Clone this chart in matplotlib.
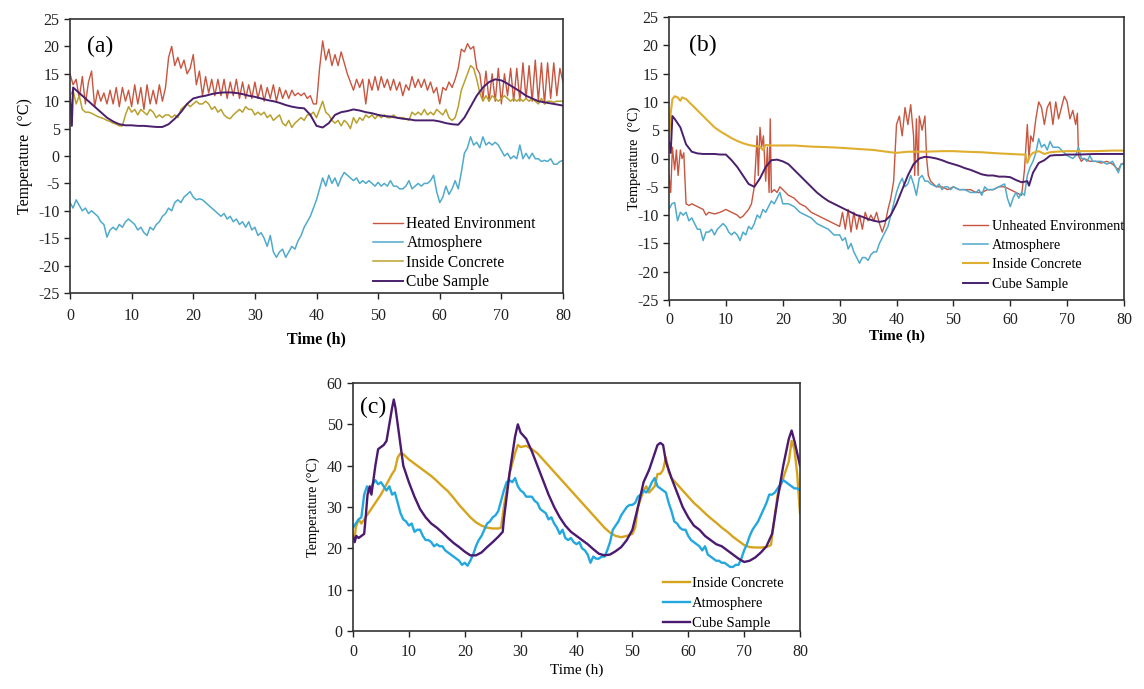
import numpy as np
import matplotlib
matplotlib.use("Agg")
import matplotlib.pyplot as plt

plt.rcParams['font.family'] = ['Liberation Serif', 'DejaVu Serif']
plt.rcParams['axes.unicode_minus'] = False

# ---------------- Panel (a) data (0.5 h sampling) ----------------
a_step = 0.5
a_heated = [15, 13, 14, 10.5, 14.5, 9.5, 13.5, 15.5, 9, 12, 10, 11.5, 9.5, 12, 9.5, 12.5, 9, 12.5, 10, 12,
            9, 13, 9.5, 12.5, 8.5, 13, 9.5, 12, 9.5, 13, 10, 12.5, 18, 20, 16.5, 18, 16, 17.5, 15, 16,
            18.5, 13, 15.5, 11, 14.5, 11.5, 14, 11, 14, 11, 14, 10.5, 13.5, 11, 14, 10.5, 13.5, 10.5, 13, 10.5,
            13.5, 10.5, 13, 10, 12.5, 10.5, 13, 10, 12.5, 10.5, 12, 10.5, 12, 11, 11.5, 11, 11.5, 10.5, 11, 9.5,
            9.5, 16, 21, 17.5, 19.5, 16.5, 18.5, 16.5, 19, 17, 15, 13.5, 12, 14, 12.5, 14, 9.5, 14, 12, 14.5,
            12, 14.5, 12.5, 14, 12, 14, 12, 13.5, 11, 13, 12, 14.5, 12.5, 14, 12.5, 14, 12, 13.5, 11.5, 12.5,
            9.5, 12.5, 12, 13.5, 12.5, 14, 16, 19.5, 19, 20.5, 19.5, 20, 16, 15, 10.5, 15.5, 10, 15, 10, 16,
            9.5, 15, 11, 16, 10, 16, 10, 17, 10.5, 16.5, 10, 17.5, 10, 17, 9.5, 17, 10.5, 17, 11, 16,
            13.5]
a_atmos = [-8.5, -9.5, -8, -9, -10, -9.5, -10.5, -10, -10.5, -11, -12, -12.5, -14.8, -13.5, -13, -13.5, -12.5, -13, -12, -11.5,
           -12, -12.5, -13.5, -13, -14, -14.5, -13, -13.5, -12.5, -12, -11, -10.5, -9.5, -10, -8.5, -8, -8.5, -7.5, -7, -6.5,
           -7.5, -8, -7.8, -8, -8.5, -9, -9.5, -10, -10.5, -11, -10.5, -11.5, -11, -12, -11.5, -12.5, -12, -13, -12, -13.5,
           -13, -14.5, -14, -15, -16.5, -14.5, -17.5, -18.5, -17.5, -17, -18.5, -17.5, -16.5, -17, -15.5, -14.5, -13, -12, -11, -9.5,
           -8, -6, -4, -5.5, -3.5, -5, -4, -5.5, -4, -3, -3.5, -4, -4.5, -4, -5, -4.5, -5, -4.5, -5, -5.5,
           -4.8, -5.5, -5, -5.5, -4.5, -5.5, -5.5, -6, -6, -5.5, -4.5, -6, -5.5, -5, -5.5, -5, -5, -4.5, -3.5, -6.5,
           -8.5, -7.5, -5.5, -7, -6, -4.5, -6, -3, 0.5, 1.5, 3.5, 2, 2.5, 1.5, 3.5, 2, 2.5, 2, 2.5, 2,
           1, 0, 0.5, -0.5, 0, -0.5, 2, -0.5, 0.5, -0.5, 0.5, -0.5, -0.5, -1, -0.8, -1, -0.5, -1.5, -1.5, -1,
           -0.8]
a_concrete = [11, 12, 9.5, 11, 8.5, 8, 8, 7.8, 7.5, 7.2, 7, 6.8, 6.5, 6.3, 6, 5.8, 5.5, 5.5, 7.5, 9,
              8, 8.5, 7.5, 8.5, 8, 7.5, 8.5, 8, 7, 7.5, 7, 7.5, 7.5, 7, 7.5, 7, 8.5, 9, 9.5, 9,
              9.5, 10, 9.5, 9.5, 10, 9.5, 8.5, 9, 8, 8.5, 7.5, 7, 6.8, 7.5, 8, 8.5, 8, 9, 8.5, 8.5,
              7.5, 8, 7.5, 8, 7, 7.5, 6.5, 7, 7.5, 6, 5.5, 6.5, 5.2, 6, 6.5, 7, 6.5, 7.5, 7.5, 8,
              7, 8.5, 10, 8, 7.5, 6.5, 6, 6.5, 5.5, 6.5, 6, 5, 7, 6, 7, 6.5, 7.5, 7, 7.5, 6.8,
              7.5, 7, 7.5, 7, 7, 7.5, 7, 7, 7, 6.8, 6.5, 8, 7.5, 8, 7.5, 8.5, 7.5, 8, 7.5, 8.5,
              8, 7.5, 8.5, 7, 6.5, 7, 9, 12, 13.5, 15, 16.5, 16, 14, 11.5, 10, 11, 10, 11, 10.5, 10,
              10.5, 11, 10.5, 10, 10.5, 10, 10.5, 10, 10.5, 10, 10.5, 10, 9.5, 10.5, 9.5, 10, 10, 9.8, 10, 10,
              10]
a_cube_t = [0, 0.3, 0.5] + list(range(1, 81))
a_cube = [11, 5.5, 12.5, 12, 11, 10, 9, 8, 7, 6.3, 5.8, 5.6, 5.6, 5.5, 5.5, 5.4, 5.3, 5.3, 5.8, 6.8, 8, 9.5,
          10.5, 10.8, 11, 11.3, 11.5, 11.6, 11.6, 11.5, 11.3, 11, 10.8, 10.5, 10.2, 10, 9.7, 9.3, 9, 8.8, 8.7, 7.5,
          5.5, 5.2, 6, 7.5, 8, 8.2, 8.5, 8.3, 8, 7.8, 7.5, 7.3, 7.2, 7, 6.8, 6.7, 6.5, 6.5, 6.5, 6.5,
          6.3, 6, 5.8, 5.7, 7, 9, 11, 12.5, 13.5, 14, 13.8, 13.2, 12.5, 11.8, 11, 10.5, 10, 9.8, 9.6, 9.4, 9.2]

# ---------------- Panel (b) data ----------------
b_unheat_t = [0, 0.3, 0.6, 1, 1.3, 1.6, 2, 2.3, 2.6, 3, 3.5, 4, 5, 6, 6.5, 7, 8, 9, 10, 11, 12, 12.5, 13, 14, 14.5,
              15, 15.5, 15.7, 16, 16.3, 16.6, 17, 17.3, 17.6, 17.8, 18, 18.5, 19, 19.5, 20, 21, 22, 23, 24, 25,
              26, 27, 28, 29, 30, 30.5, 31, 31.5, 32, 32.5, 33, 33.5, 34, 34.5, 35, 35.5, 36, 36.5, 37, 37.5,
              38, 38.5, 39, 39.5, 40, 40.5, 41, 41.5, 42, 42.5, 43, 43.2, 43.5, 43.8, 44, 44.5, 45, 45.3, 45.6,
              46, 47, 48, 49, 50, 51, 52, 53, 54, 55, 56, 57, 58, 59, 60, 61, 62, 62.5, 63, 63.3, 63.6, 64,
              64.5, 65, 65.5, 66, 66.5, 67, 67.5, 68, 68.5, 69, 69.5, 70, 70.5, 71, 71.5, 71.8, 72, 72.5, 73,
              74, 75, 76, 77, 78, 79, 79.5, 80]
b_unheat = [-3, -6, 2, -2, 1.5, -3, 1.5, 0, 1, -8, -8.3, -8, -8.5, -9, -10, -9.5, -9.8, -9.5, -9, -9.5, -10, -10.5, -10.2, -9, -8,
            -5, 4, -3, 5.5, 2, 4, -4, 2, -6, 7, -6, -5.5, -6, -5, -5.5, -6.5, -7, -8, -8.5, -9.5,
            -10, -10.5, -11, -11.5, -12, -9.5, -12.5, -9, -13, -9.5, -12.5, -10, -12.5, -9.5, -11, -10, -11, -9.5, -11.5, -13,
            -11.5, -9, -7, -4, 6, 7.5, 4, 9, 6, 9.5, 4, -3, 7, -3, 7.5, 5, 7.5, 0, -3,
            -4, -5, -5, -5.5, -5, -5.5, -5.5, -5.5, -6, -6, -5.5, -5.5, -5, -5, -5.5, -6, -6.5, -2, 6, 0, 4, 3,
            7, 10, 9, 6, 9, 10, 6, 10, 7, 9, 11, 10, 7, 8.5, 6, 8, 0.5, -0.5, 0,
            -0.5, -0.5, -0.8, -0.5, -1, -2, -1, -0.8]
b_atmos_t = [0, 0.5, 1, 1.5, 2, 2.5, 3, 3.5, 4, 4.5, 5, 5.5, 6, 6.5, 7, 7.5, 8, 8.5, 9, 9.5, 10, 10.5, 11, 11.5, 12,
             12.5, 13, 13.5, 14, 14.5, 15, 15.5, 16, 16.5, 17, 17.5, 18, 18.5, 19, 19.5, 20, 21, 22, 23, 24, 25,
             26, 27, 28, 29, 30, 30.5, 31, 31.5, 32, 32.5, 33, 33.5, 34, 34.5, 35, 35.5, 36, 36.5, 37, 37.5, 38,
             38.5, 39, 39.5, 40, 40.5, 41, 41.5, 42, 42.5, 43, 43.5, 44, 44.5, 45, 45.5, 46, 47, 47.5, 48, 48.5,
             49, 49.5, 50, 51, 52, 53, 54, 54.5, 55, 55.5, 56, 57, 58, 59, 59.5, 60, 60.5, 61, 61.5, 62, 62.5,
             63, 63.5, 64, 64.5, 65, 65.5, 66, 66.5, 67, 67.5, 68, 68.5, 69, 69.5, 70, 71, 71.5, 72, 72.5, 73,
             73.5, 74, 74.5, 75, 76, 77, 78, 79, 79.5, 80]
b_atmos = [-9, -8, -7.8, -11, -9.5, -10, -9.5, -11, -10.5, -11.5, -12.5, -12.5, -14.5, -13, -13, -12.5, -13.5, -12.5, -12, -11.5, -12, -13, -13.5, -13, -13.5,
           -14.5, -13, -13.5, -12, -12.5, -11.5, -10, -10.5, -9, -9.5, -8.5, -7.5, -8, -7, -6, -8, -8, -8.5, -9.5, -10, -10.5,
           -11.5, -12, -12.5, -13.5, -13.5, -14.5, -14, -16, -15, -16.5, -17.5, -18.5, -17.5, -17.5, -18, -17, -16.5, -16.5, -15, -14, -13,
           -12, -10, -8, -6, -4.5, -3.5, -5, -4.5, -3, -4.5, -6.5, -3.5, -3, -4, -4, -4.5, -5, -4.5, -5.5, -5,
           -5, -5.5, -5, -5.5, -5.5, -6, -6, -5.5, -6.5, -5, -5.5, -5.5, -5, -4.5, -7, -8.5, -7, -6, -7, -6, -6.5,
           -3, -1.5, -0.5, 1, 3.5, 2, 2.5, 1.5, 3, 2, 2, 2, 1.5, 1, 0.5, 0, 0.5, 2, 0, 0,
           -0.5, 0.5, -0.5, -0.5, -0.5, -1, -0.5, -2.5, -1, -1]
b_concrete_t = [0, 0.3, 0.6, 1, 1.5, 2, 2.3, 3, 4, 5, 6, 7, 8, 9, 10, 11, 12, 13, 14, 15, 16, 16.5, 17, 18, 19, 20, 22,
                25, 28, 30, 33, 36, 39, 40, 42, 45, 48, 50, 52, 55, 58, 60, 62, 62.7, 63, 63.5, 64, 65, 66, 67, 68,
                70, 72, 75, 78, 80]
b_concrete = [3, 8, 10.5, 11, 10.8, 10.2, 10.8, 10.5, 9.5, 8.5, 7.5, 6.5, 5.5, 4.8, 4.2, 3.6, 3.1, 2.7, 2.4, 2.2, 2.1, 1.5, 2.4, 2.3, 2.3, 2.3, 2.3,
              2.1, 2.0, 1.9, 1.7, 1.5, 1.1, 1.0, 1.2, 1.2, 1.3, 1.3, 1.2, 1.1, 0.9, 0.8, 0.7, 0.7, -0.8, 0.5, 1.0, 1.3, 0.8, 1.1, 1.2,
              1.3, 1.3, 1.3, 1.4, 1.4]
b_cube_t = [0, 0.3, 0.6, 1, 2, 3, 4, 5, 6, 7, 8, 9, 10, 11, 12, 13, 14, 15, 16, 17, 18, 19, 20, 21, 22, 23, 24, 25, 26,
            27, 28, 29, 30, 31, 32, 33, 34, 35, 36, 37, 38, 39, 40, 41, 42, 43, 44, 45, 46, 47, 48, 49, 50, 51, 52,
            53, 54, 55, 56, 57, 58, 59, 60, 61, 62, 63, 63.3, 64, 65, 66, 67, 68, 69, 70, 72, 75, 78, 80]
b_cube = [3, 1, 7.5, 7, 5.5, 2.5, 1.2, 0.9, 0.8, 0.8, 0.8, 0.7, 0.7, -0.3, -1.5, -3, -4.5, -5, -3.5, -1.5, -0.3, -0.2, -0.5, -1, -2, -3, -4, -5, -6,
          -6.8, -7.5, -8, -8.5, -9, -9.5, -10, -10.3, -10.7, -11, -11.2, -11, -10, -8, -5.5, -3, -1, 0, 0.3, 0.2, 0, -0.3, -0.7, -1, -1.3, -1.7,
          -2, -2.4, -2.8, -3, -3, -3.2, -3.2, -3.3, -3.8, -4.2, -4, -4.8, -2.5, -0.8, -0.3, 0.5, 0.6, 0.6, 0.7, 0.7, 0.8, 0.8, 0.8]

# ---------------- Panel (c) data ----------------
c_concrete_t = [0, 0.3, 0.5, 1, 1.5, 2, 3, 4, 5, 6, 7, 7.5, 8, 8.5, 9, 10, 11, 12, 13, 14, 15, 16, 17, 18, 19, 20, 21,
                22, 23, 24, 25, 26, 26.5, 27, 28, 29, 29.5, 30, 31, 32, 33, 34, 35, 36, 37, 38, 39, 40, 41, 42, 43,
                44, 45, 46, 47, 48, 49, 50, 50.5, 51, 52, 52.5, 53, 54, 54.5, 55, 55.5, 56, 56.5, 57, 58, 59, 60,
                61, 62, 63, 64, 65, 66, 67, 68, 69, 70, 71, 72, 73, 74, 74.8, 75.5, 76, 77, 78, 78.5, 79, 79.5, 80]
c_concrete = [23, 22.5, 25, 27, 26, 27, 29, 31, 33, 35.5, 38, 39, 42, 43, 42.8, 41.5, 40.5, 39.5, 38.5, 37.5, 36.3, 35, 33.8, 32.2, 30.5, 29, 27.5,
              26.3, 25.5, 25, 24.8, 24.8, 25, 30, 38, 43, 45, 44.5, 44.8, 44, 43, 41.5, 40, 38.5, 37, 35.5, 34, 32.5, 31, 29.5, 28,
              26.5, 25, 23.8, 23, 22.7, 23, 23.5, 25, 30, 34, 35, 33.5, 35, 38, 38, 39, 42, 38.5, 37, 35.5, 34, 32.5,
              31, 29.8, 28.5, 27.3, 26.2, 25, 24, 22.8, 21.8, 20.8, 20.3, 20.2, 20.2, 20.3, 20.8, 28, 33, 37, 41, 46, 44, 38, 28.5]
c_step = 0.5
c_atmos = [25, 26, 27, 27.5, 33, 35, 33.5, 35.5, 36.5, 35.5, 36, 35, 34, 35, 33, 33.5, 31, 28.5, 27, 26.5,
           25.5, 26, 24, 24.5, 24.5, 23, 22, 22, 21.5, 20.5, 21, 20.5, 20.5, 19.5, 19, 18.5, 18, 17.5, 17, 16,
           16.5, 15.8, 17, 18.5, 20.5, 22, 23, 24.5, 26, 26.5, 27.5, 28, 29, 31.5, 34, 36, 36.5, 36, 37, 35,
           34, 33.5, 32.5, 32.5, 32.5, 31.5, 31, 29.5, 29, 28.5, 27, 27.5, 26, 25, 23.5, 24.5, 22.5, 22, 22.5, 21.5,
           21, 21.5, 20, 19.5, 18.5, 16.5, 18, 17.5, 17.5, 18, 18, 19.5, 21.5, 24.5, 25.5, 26.5, 28, 29, 30, 30.5,
           30.5, 31, 32.5, 33, 34, 33.5, 34.5, 36, 37, 35, 34.5, 34, 33.5, 31, 29, 26.5, 26, 25, 24.5, 24.5,
           23, 22, 21.5, 21, 20.5, 19.5, 20.5, 18.5, 18, 17.5, 17, 17, 16.5, 16.5, 16, 15.5, 15.5, 16, 16, 17.5,
           19.5, 21, 23, 24.5, 25.5, 26.5, 28, 29.5, 31, 33, 33, 33.5, 34.5, 35.5, 36.5, 36, 35.5, 35, 34.5, 34.5,
           34]
c_cube_t = [0, 0.3, 0.6, 1, 2, 2.3, 2.6, 3, 3.3, 3.6, 4, 4.5, 5, 5.5, 6, 6.5, 7, 7.3, 7.6, 8, 8.5, 9, 10, 11, 12, 13,
            14, 15, 16, 17, 18, 19, 20, 21, 22, 23, 24, 25, 26, 26.8, 27, 28, 29, 29.5, 30, 31, 32, 33, 34, 35, 36,
            37, 38, 39, 40, 41, 42, 43, 44, 45, 46, 47, 48, 49, 50, 51, 52, 53, 54, 54.5, 55, 55.5, 56, 57, 58, 59,
            60, 61, 62, 63, 64, 65, 66, 67, 68, 69, 70, 71, 72, 73, 74, 75, 76, 77, 78, 78.5, 79, 80]
c_cube = [23, 21.5, 23, 22.5, 23.5, 28, 33, 35, 33, 36, 40, 44, 44.5, 45, 46, 50, 54, 56, 54, 50, 45, 40, 36, 32.5, 29.5, 27.5,
          26, 25, 23.8, 22.5, 21.3, 20.3, 19.2, 18.3, 18.3, 19, 20.3, 21.5, 22.8, 24, 27, 38, 47, 50, 48, 46.5, 43.5, 40, 36.5, 33, 30,
          27.5, 25.5, 24, 23, 22, 21, 19.8, 18.7, 18.3, 18.5, 19.3, 20.3, 22, 24.5, 30, 36, 39, 43, 45, 45.5, 45, 41, 37, 33.5, 30,
          27.5, 25.5, 24.5, 23, 22, 21, 20.5, 19.5, 18.5, 17.5, 16.7, 17, 17.8, 19, 20.5, 23.5, 32, 40, 46.5, 48.5, 46, 40]

RED = '#C8553F'
BLUE_AB = '#4FAACB'
GOLD_A = '#B9A02C'
GOLD_B = '#E0AE2E'
PURPLE = '#4A1F6C'
GOLD_C = '#D6A41C'
BLUE_C = '#22A8DF'
PURPLE_C = '#4B1A70'

W, H = 1144, 689
fig = plt.figure(figsize=(W / 100, H / 100), dpi=100)


def style_axes(ax, ylim, yticks, pad):
    ax.set_xlim(0, 80)
    ax.set_ylim(*ylim)
    ax.set_xticks(np.arange(0, 81, 10))
    ax.set_yticks(yticks)
    ax.tick_params(direction='out', length=4, width=1, labelsize=11.5, colors='#222222')
    ax.tick_params(axis='x', pad=pad)
    for s in ax.spines.values():
        s.set_color('#333333')
        s.set_linewidth(1.2)


def place_legend(ax, x_px, y_px, fs, hl, htp, ls):
    ax.legend(loc='upper left', bbox_to_anchor=(x_px / W, 1 - y_px / H), bbox_transform=fig.transFigure,
              frameon=False, fontsize=fs, handlelength=hl, handletextpad=htp, labelspacing=ls,
              borderpad=0, borderaxespad=0)


# ---- (a)
axa = fig.add_axes([70 / W, 1 - 293 / H, 493 / W, 274 / H])
axa.plot(np.arange(len(a_heated)) * a_step, a_heated, color=RED, lw=1.0, label='Heated Environment')
axa.plot(np.arange(len(a_atmos)) * a_step, a_atmos, color=BLUE_AB, lw=1.1, label='Atmosphere')
axa.plot(np.arange(len(a_concrete)) * a_step, a_concrete, color=GOLD_A, lw=1.1, label='Inside Concrete')
axa.plot(a_cube_t, a_cube, color=PURPLE, lw=1.4, label='Cube Sample')
style_axes(axa, (-25, 25), np.arange(-25, 26, 5), 7)
axa.set_ylabel('Temperature  (°C)', fontsize=11.5, labelpad=4)
axa.set_xlabel('Time (h)', fontsize=11.5, fontweight='bold', labelpad=5)
axa.text(0.035, 0.9, '(a)', transform=axa.transAxes, fontsize=17, va='center')
place_legend(axa, 373, 216, 11.2, 1.9, 0.25, 0.22)

# ---- (b)
axb = fig.add_axes([669 / W, 1 - 300 / H, 455 / W, 283 / H])
axb.plot(b_unheat_t, b_unheat, color=RED, lw=1.0, label='Unheated Environment')
axb.plot(b_atmos_t, b_atmos, color=BLUE_AB, lw=1.1, label='Atmosphere')
axb.plot(b_concrete_t, b_concrete, color=GOLD_B, lw=1.5, label='Inside Concrete')
axb.plot(b_cube_t, b_cube, color=PURPLE, lw=1.4, label='Cube Sample')
style_axes(axb, (-25, 25), np.arange(-25, 26, 5), 5)
axb.set_ylabel('Temperature  (°C)', fontsize=10.3, labelpad=-3)
axb.set_xlabel('Time (h)', fontsize=11, fontweight='bold', labelpad=1)
axb.text(0.045, 0.9, '(b)', transform=axb.transAxes, fontsize=17, va='center')
place_legend(axb, 963, 220, 10.3, 1.75, 0.28, 0.43)

# ---- (c)
axc = fig.add_axes([353 / W, 1 - 631 / H, 447 / W, 248 / H])
axc.plot(c_concrete_t, c_concrete, color=GOLD_C, lw=1.7, label='Inside Concrete')
axc.plot(np.arange(len(c_atmos)) * c_step, c_atmos, color=BLUE_C, lw=1.7, label='Atmosphere')
axc.plot(c_cube_t, c_cube, color=PURPLE_C, lw=1.7, label='Cube Sample')
style_axes(axc, (0, 60), np.arange(0, 61, 10), 5)
axc.set_ylabel('Temperature (°C)', fontsize=10.3, labelpad=5)
axc.set_xlabel('Time (h)', fontsize=11, labelpad=3)
axc.text(0.015, 0.9, '(c)', transform=axc.transAxes, fontsize=17, va='center')
place_legend(axc, 663, 577, 10.5, 1.85, 0.15, 0.46)

fig.savefig('out.png', dpi=100)
